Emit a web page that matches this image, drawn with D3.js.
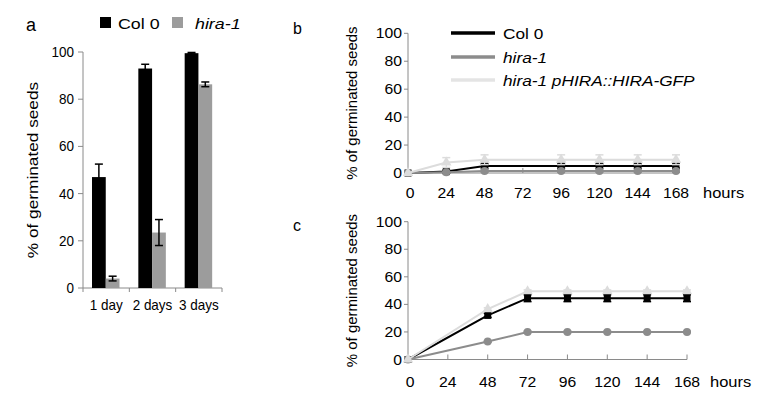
<!DOCTYPE html>
<html><head><meta charset="utf-8">
<script src="https://cdn.jsdelivr.net/npm/d3@7"></script>
<style>body{margin:0;background:#fff}svg{display:block}text{font-family:"Liberation Sans",Arial,sans-serif;fill:#000}</style>
</head><body><svg id="c" width="771" height="400"></svg>
<script>
// ---- data ----
const days = ["1 day", "2 days", "3 days"];
const barSeries = ["Col 0", "hira-1"];
const barCol0 = [47, 93, 99.5];
const barCol0Err = [5.5, 1.8, 0.3];
const barHira = [4, 23.5, 86.3];
const barHiraErr = [1, 5.5, 1];
const yTicks = [0, 20, 40, 60, 80, 100];
const hourTicks = [0, 24, 48, 72, 96, 120, 144, 168];

const hoursB = [0, 24, 48, 96, 120, 144, 168];
const col0B = [0, 1, 5, 5, 5, 5, 5];
const col0BErr = [0, 1, 1.5, 1.5, 1.5, 1.5, 1.5];
const hiraB = [0, 0.5, 1.5, 1.5, 1.5, 1.5, 1.5];
const hiraBErr = [0, 0.5, 1, 1, 1, 1, 1];
const compB = [0, 7.5, 9.5, 9.5, 9.5, 9.5, 9.5];
const compBErr = [0, 3.5, 3.5, 3.5, 3.5, 3.5, 3.5];

const hoursC = [0, 48, 72, 96, 120, 144, 168];
const col0C = [0, 32, 44.5, 44.5, 44.5, 44.5, 44.5];
const col0CErr = [0, 1.5, 2.5, 2.5, 2.5, 2.5, 2.5];
const hiraC = [0, 13, 20, 20, 20, 20, 20];
const hiraCErr = [0, 0.5, 0.5, 0.5, 0.5, 0.5, 0.5];
const compC = [0, 36.5, 49.5, 49.5, 49.5, 49.5, 49.5];
const compCErr = [0, 1, 1, 1, 1, 1, 1];

const lineLabels = ["Col 0", "hira-1", "hira-1 pHIRA::HIRA-GFP"];

// ---- styles ----
const C_BLACK = "#000", C_GRAY = "#8c8c8c", C_BAR_GRAY = "#9c9c9c", C_LIGHT = "#dcdcdc", C_AXIS = "#8a8a8a";
const svg = d3.select("#c");

function txt(g, x, y, s, size, anchor, sx, opts) {
  opts = opts || {};
  const t = g.append("text")
    .attr("transform", `translate(${x},${y})` + (opts.rot ? ` rotate(${opts.rot})` : "") + ` scale(${sx || 1},1)`)
    .attr("font-size", size).attr("text-anchor", anchor || "start").text(s);
  if (opts.italic) t.attr("font-style", "italic");
  return t;
}

// ===== Panel a =====
{
  const g = svg.append("g");
  const x = d3.scaleBand().domain(days).range([83, 222]);
  const sub = d3.scaleBand().domain(barSeries).range([9, 36.5]);
  const y = d3.scaleLinear().domain([0, 100]).range([288, 52]);
  g.append("line").attr("x1", 83).attr("x2", 83).attr("y1", y(100)).attr("y2", y(0)).attr("stroke", C_AXIS);
  g.append("line").attr("x1", 83).attr("x2", 222).attr("y1", y(0)).attr("y2", y(0)).attr("stroke", C_AXIS);
  yTicks.forEach(v => {
    g.append("line").attr("x1", 78).attr("x2", 83).attr("y1", y(v)).attr("y2", y(v)).attr("stroke", C_AXIS);
    txt(g, 74, y(v) + 5, String(v), 15, "end", 0.9);
  });
  const bounds = days.map(d => x(d)).concat([x.range()[1]]);
  bounds.forEach(b => g.append("line").attr("x1", b).attr("x2", b).attr("y1", y(0)).attr("y2", y(0) + 4).attr("stroke", C_AXIS));
  days.forEach(d => txt(g, x(d) + x.bandwidth() / 2, 310, d, 15, "middle", 0.9));
  const sets = [[barCol0, barCol0Err, C_BLACK, "Col 0"], [barHira, barHiraErr, C_BAR_GRAY, "hira-1"]];
  sets.forEach(([vals, errs, col, s]) => {
    days.forEach((d, i) => {
      const bx = x(d) + sub(s);
      g.append("rect").attr("x", bx).attr("y", y(vals[i])).attr("width", sub.bandwidth()).attr("height", y(0) - y(vals[i])).attr("fill", col);
    });
  });
  sets.forEach(([vals, errs, col, s]) => {
    days.forEach((d, i) => {
      const cx = x(d) + sub(s) + sub.bandwidth() / 2;
      const y1 = y(vals[i] + errs[i]), y2 = y(vals[i] - errs[i]);
      g.append("line").attr("x1", cx).attr("x2", cx).attr("y1", y1).attr("y2", y2).attr("stroke", "#000").attr("stroke-width", 1.5);
      [y1, y2].forEach(yy => g.append("line").attr("x1", cx - 4).attr("x2", cx + 4).attr("y1", yy).attr("y2", yy).attr("stroke", "#000").attr("stroke-width", 1.5));
    });
  });
  txt(g, 38, 170, "% of germinated seeds", 15, "middle", 1.15, { rot: -90 });
  txt(g, 26, 31, "a", 18, "start", 1);
  g.append("rect").attr("x", 100).attr("y", 17).attr("width", 11).attr("height", 11).attr("fill", C_BLACK);
  txt(g, 118, 28.5, barSeries[0], 15.5, "start", 1.15);
  g.append("rect").attr("x", 172).attr("y", 17).attr("width", 11).attr("height", 11).attr("fill", C_BAR_GRAY);
  txt(g, 195, 28.5, barSeries[1], 15.5, "start", 1.15, { italic: true });
}

// ===== Line panels =====
function linePanel(cfg) {
  const g = svg.append("g");
  const x = d3.scaleLinear().domain([0, 168]).range([408, cfg.xEnd]);
  const y = d3.scaleLinear().domain([0, 100]).range([cfg.y0, cfg.y100]);
  g.append("line").attr("x1", 408).attr("x2", 408).attr("y1", y(100)).attr("y2", y(0)).attr("stroke", C_AXIS);
  g.append("line").attr("x1", 408).attr("x2", x(168)).attr("y1", y(0)).attr("y2", y(0)).attr("stroke", C_AXIS);
  yTicks.forEach(v => {
    g.append("line").attr("x1", 404).attr("x2", 408).attr("y1", y(v)).attr("y2", y(v)).attr("stroke", C_AXIS);
    txt(g, 402, y(v) + 5, String(v), 15, "end", 1.05);
  });
  hourTicks.forEach(h => {
    if (h > 0) g.append("line").attr("x1", x(h)).attr("x2", x(h)).attr("y1", y(0)).attr("y2", y(0) - 5).attr("stroke", C_AXIS);
    txt(g, x(h) + (h === 0 ? 2 : 0), cfg.tickBase, String(h), 15, "middle", 1.05);
  });
  txt(g, cfg.hoursX, cfg.tickBase, "hours", 15, "start", 1.1);
  txt(g, 357, (y(0) + y(100)) / 2, "% of germinated seeds", 15, "middle", 1, { rot: -90 });
  txt(g, 293, cfg.labelY, cfg.label, 16, "start", 1);

  const line = d3.line().x(d => x(d[0])).y(d => y(d[1]));
  cfg.series.forEach(s => {
    const pts = cfg.hours.map((h, i) => [h, s.vals[i], s.errs[i]]);
    const sg = g.append("g");
    pts.forEach(p => {
      if (p[2] <= 0) return;
      const cx = x(p[0]), y1 = y(p[1] + p[2]), y2 = y(Math.max(p[1] - p[2], 0));
      sg.append("line").attr("x1", cx).attr("x2", cx).attr("y1", y1).attr("y2", y2).attr("stroke", s.color).attr("stroke-width", 1.2);
      [y1, y2].forEach(yy => sg.append("line").attr("x1", cx - 4).attr("x2", cx + 4).attr("y1", yy).attr("y2", yy).attr("stroke", s.color).attr("stroke-width", 1.5));
    });
    sg.append("path").attr("d", line(pts)).attr("fill", "none").attr("stroke", s.color).attr("stroke-width", 2);
    pts.forEach(p => {
      const cx = x(p[0]), cy = y(p[1]);
      if (s.shape === "square") sg.append("rect").attr("x", cx - 3.5).attr("y", cy - 3.5).attr("width", 7).attr("height", 7).attr("fill", s.color);
      else if (s.shape === "circle") sg.append("circle").attr("cx", cx).attr("cy", cy).attr("r", 4).attr("fill", s.color);
      else sg.append("path").attr("d", d3.symbol(d3.symbolTriangle, 48)()).attr("transform", `translate(${cx},${cy})`).attr("fill", s.color);
    });
  });
  return g;
}

linePanel({
  label: "b", labelY: 34, y0: 173, y100: 33.3, xEnd: 676, tickBase: 198, hoursX: 703, hours: hoursB,
  series: [
    { vals: col0B, errs: col0BErr, color: C_BLACK, shape: "square" },
    { vals: hiraB, errs: hiraBErr, color: C_GRAY, shape: "circle" },
    { vals: compB, errs: compBErr, color: C_LIGHT, shape: "triangle" }
  ]
});
linePanel({
  label: "c", labelY: 231, y0: 359.5, y100: 221.7, xEnd: 687, tickBase: 387, hoursX: 710, hours: hoursC,
  series: [
    { vals: col0C, errs: col0CErr, color: C_BLACK, shape: "square" },
    { vals: hiraC, errs: hiraCErr, color: C_GRAY, shape: "circle" },
    { vals: compC, errs: compCErr, color: C_LIGHT, shape: "triangle" }
  ]
});

{
  const g = svg.append("g");
  const cols = [C_BLACK, C_GRAY, "#e4e4e4"];
  const ys = [33, 57, 80];
  lineLabels.forEach((l, i) => {
    g.append("line").attr("x1", 451).attr("x2", 495).attr("y1", ys[i]).attr("y2", ys[i]).attr("stroke", cols[i]).attr("stroke-width", 3.5);
    txt(g, 503, ys[i] + 5.5, l, 15, "start", 1.15, { italic: i > 0 });
  });
}
</script></body></html>
